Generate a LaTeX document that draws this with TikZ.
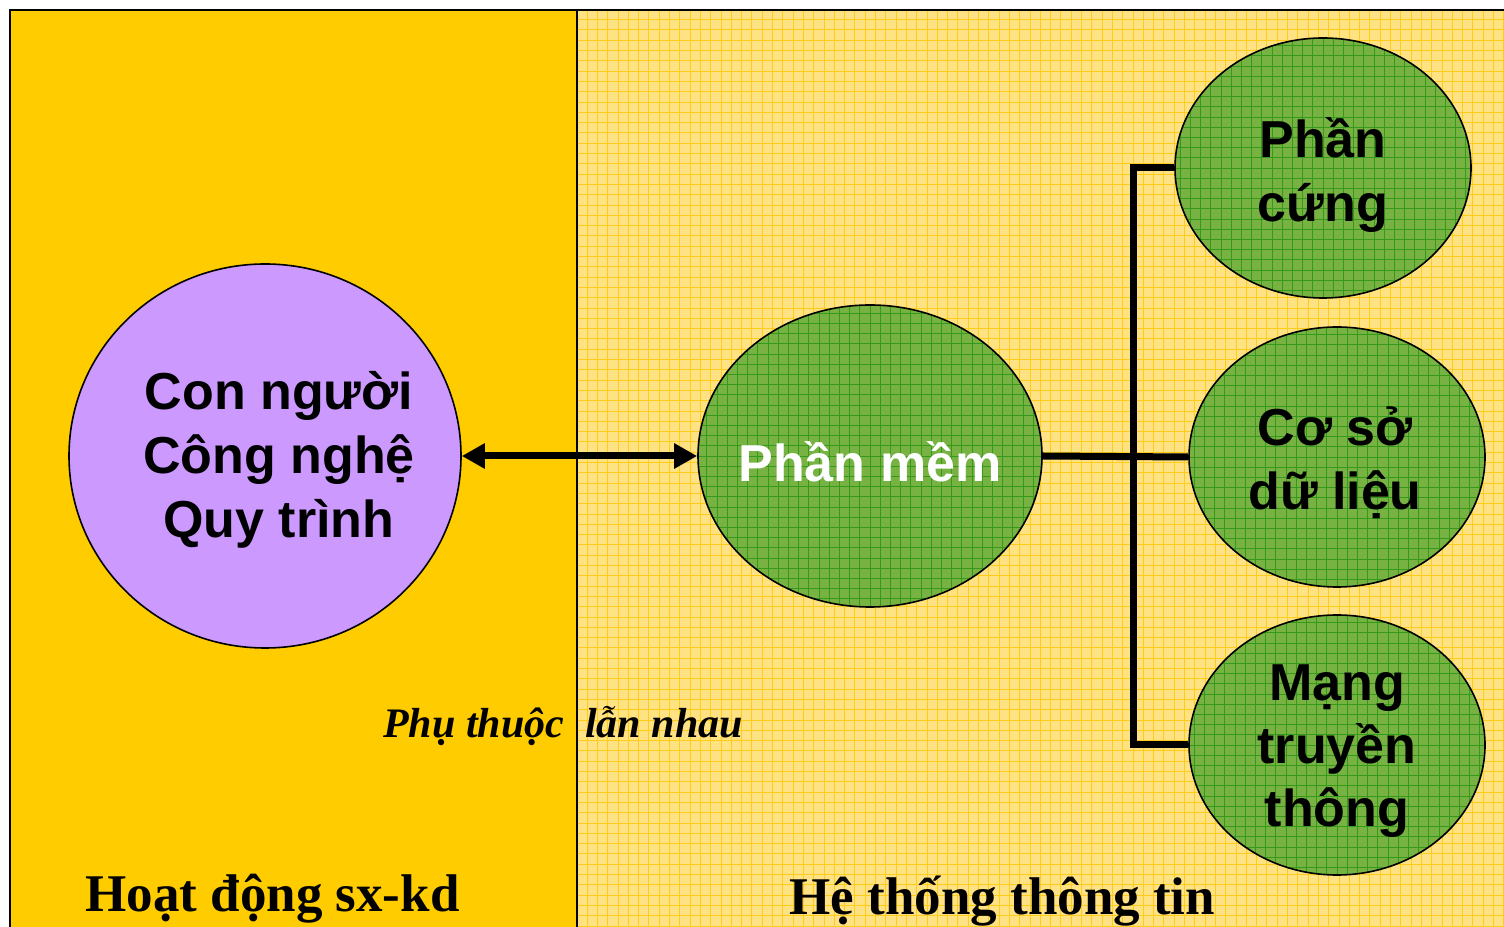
\documentclass[tikz,border=0pt]{standalone}
\usepackage{fontspec}
\setmainfont{Liberation Serif}
\setsansfont{Liberation Sans}
\usepackage{tikz}
\usetikzlibrary{shapes.geometric,arrows.meta}

\definecolor{panelgold}{HTML}{FFCC00}
\definecolor{panellight}{HTML}{FFE283}
\definecolor{gridgold}{HTML}{FFCC1A}
\definecolor{lilac}{HTML}{CC99FF}
\definecolor{leaf}{HTML}{78B242}
\definecolor{leafline}{HTML}{339A1A}

\begin{document}
\begin{tikzpicture}[x=1pt,y=1pt,
		blob/.style={ellipse, draw=black, line width=1.6pt, inner sep=0pt},
		greenblob/.style={blob, fill=leaf, minimum width=296pt, minimum height=260pt,
			path picture={\draw[leafline, line width=0.8pt, step=10.2pt]
				(path picture bounding box.south west) grid (path picture bounding box.north east);}},
		blobtext/.style={align=center, font=\sffamily\bfseries\fontsize{52}{64}\selectfont},
		bus/.style={line width=7pt},
		title/.style={font=\bfseries\fontsize{53}{60}\selectfont, anchor=base west}]
		\useasboundingbox (0,0) rectangle (1504,926);

		% Panels
		\fill[panelgold] (10,-10) rectangle (577,916);
		\begin{scope}
			\clip (577,-10) rectangle (1520,916);
			\fill[panellight] (577,-10) rectangle (1520,916);
			\draw[gridgold, line width=0.9pt, step=10.3pt] (577,-10) grid (1520,916);
		\end{scope}
		\draw[line width=2pt] (10,-10) -- (10,916) -- (1520,916);
		\draw[line width=2pt] (577,-10) -- (577,916);

		% Business side
		\node[blob, fill=lilac, minimum width=392pt, minimum height=384pt] (ppl) at (265,470) {};
		\node[blobtext] (pplt) at ([xshift=14pt,yshift=-4pt]ppl.center) {Con người\\Công nghệ\\Quy trình};

		% Information system side
		\node[greenblob, minimum width=344pt, minimum height=302pt] (soft) at (870,470) {};
		\node[greenblob] (hw) at (1323,758) {};
		\node[greenblob] (db) at (1337,469) {};
		\node[greenblob] (net) at (1337,181) {};
		\node[blobtext, text=white] (softt) at ([yshift=-6pt]soft.center) {Phần mềm};
		\node[blobtext] (hwt) at ([yshift=-7pt]hw.center) {Phần\\cứng};
		\node[blobtext] (dbt) at ([xshift=-2pt,yshift=-6pt]db.center) {Cơ sở\\dữ liệu};
		\node[blobtext, font=\sffamily\bfseries\fontsize{52}{63}\selectfont] (nett) at ([yshift=-6pt]net.center) {Mạng\\truyền\\thông};

		% Links
		\coordinate (busx) at (1133,0);
		\draw[bus, {Triangle[length=23pt,width=24pt]}-{Triangle[length=23pt,width=24pt]}] (ppl.east) -- (soft.west);
		\draw[bus] (soft.east) -- (db.west);
		\draw[bus] (hw.west) -- (hw.west -| busx) |- (net.west);

		% Labels
		\node[font=\bfseries\itshape\fontsize{42}{48}\selectfont, anchor=base] (dep) at (563,188) {Phụ thuộc\ \ lẫn nhau};
		\node[title] (act) at (82,14) {Hoạt động sx-kd};
		\node[title] (is) at (786,12) {Hệ thống thông tin};
	\end{tikzpicture}
\end{document}
